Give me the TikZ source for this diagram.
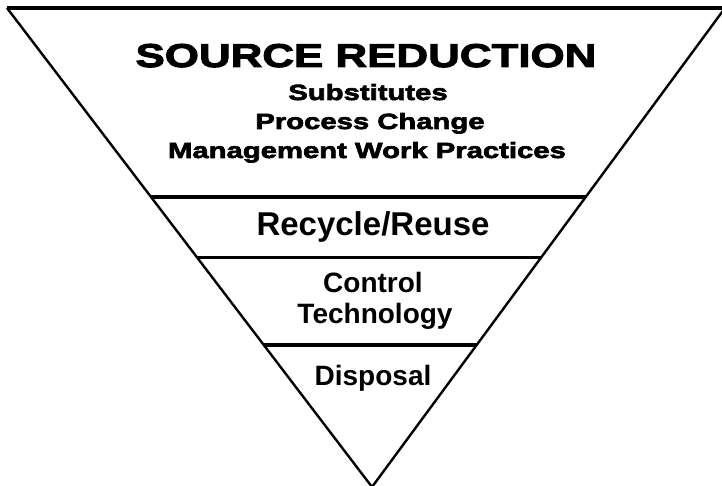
\documentclass[tikz,border=0pt]{standalone}
\usepackage{fontspec}
\setmainfont{Liberation Sans}
\newfontfamily\heavyfont[FakeStretch=1.33,FakeBold=3]{Liberation Sans}
\usetikzlibrary{calc}

\begin{document}
\begin{tikzpicture}[x=1pt, y=-1pt,
    side/.style ={line width=2.4pt, line join=miter},
    divider/.style ={line width=3.6pt},
    heading/.style ={anchor=base, inner sep=0pt, font=\heavyfont\bfseries\fontsize{33}{36}\selectfont},
    subheading/.style ={anchor=base, inner sep=0pt, font=\heavyfont\bfseries\fontsize{22}{24}\selectfont},
    tier/.style ={anchor=base, inner sep=0pt, font=\bfseries\fontsize{28}{30}\selectfont}]
   \useasboundingbox (0,0) rectangle (722,486);

   \coordinate (L) at (7,8);
   \coordinate (R) at (725,8);
   \coordinate (A) at (372,487);

   \coordinate (L1) at ($(L)!0.395!(A)$);
   \coordinate (R1) at ($(R)!0.395!(A)$);
   \coordinate (L2) at ($(L)!0.521!(A)$);
   \coordinate (R2) at ($(R)!0.521!(A)$);
   \coordinate (L3) at ($(L)!0.703!(A)$);
   \coordinate (R3) at ($(R)!0.703!(A)$);

   \draw[side] (L) to (A) to (R);
   \draw[divider] (L) to (R);
   \draw[divider] (L1) to (R1);
   \draw[divider] (L2) to (R2);
   \draw[divider] (L3) to (R3);

   \node[heading] (source) at (366,67) {SOURCE REDUCTION};
   \node[subheading] (subst) at (368,100) {Substitutes};
   \node[subheading] (process) at (370,129) {Process Change};
   \node[subheading] (manage) at (367,158) {Management Work Practices};

   \node[tier, font=\bfseries\fontsize{33}{35}\selectfont] (recycle) at (373,236) {Recycle/Reuse};
   \node[tier] (control) at (373,292) {Control};
   \node[tier] (techno) at (375,323) {Technology};
   \node[tier] (disposal) at (373,385) {Disposal};
 \end{tikzpicture}
\end{document}
